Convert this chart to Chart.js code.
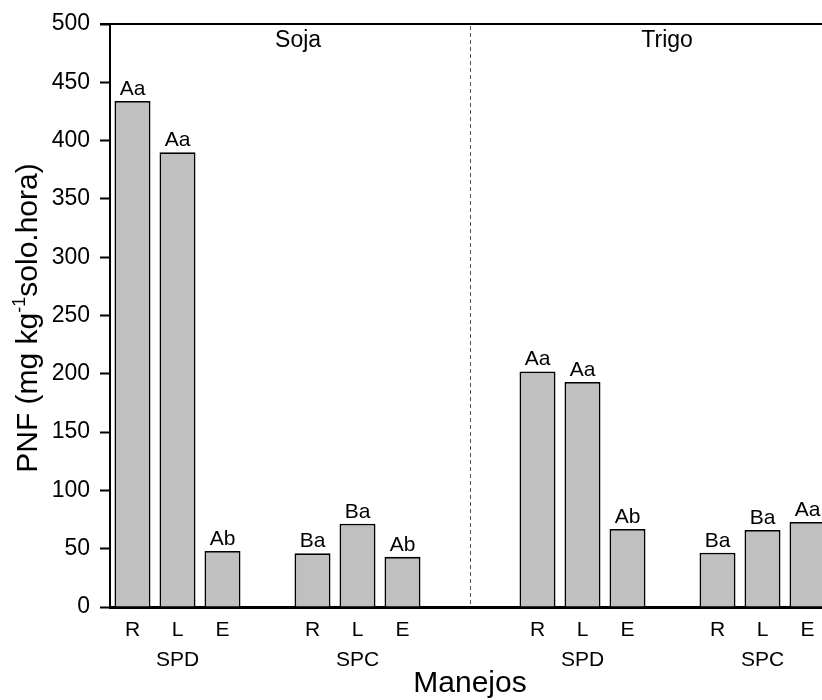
<!DOCTYPE html>
<html><head><meta charset="utf-8">
<script src="https://cdn.jsdelivr.net/npm/chart.js@4/dist/chart.umd.min.js"></script>
<style>
html,body{margin:0;padding:0;background:#fff;overflow:hidden;width:822px;height:700px}
#wrap{position:relative;width:840px;height:700px}
</style>
</head><body><div id="wrap"><canvas id="c" width="840" height="700"></canvas></div>
<script>
// ---- data ----
const crops = ['Soja', 'Trigo'];
const systems = ['SPD', 'SPC'];
const treatments = ['R', 'L', 'E'];
const sojaSPD = [434, 390, 48];
const sojaSPC = [46, 71.5, 43];
const trigoSPD = [202, 193, 67];
const trigoSPC = [46.5, 66, 73];
const sojaSPDLetters = ['Aa', 'Aa', 'Ab'];
const sojaSPCLetters = ['Ba', 'Ba', 'Ab'];
const trigoSPDLetters = ['Aa', 'Aa', 'Ab'];
const trigoSPCLetters = ['Ba', 'Ba', 'Aa'];
const yMin = 0, yMax = 500, yStep = 50;
const yTitleMain = 'PNF (mg kg';
const yTitleSup = '-1';
const yTitleEnd = 'solo.hora)';
const xTitle = 'Manejos';

// ---- build slots (gaps between groups) ----
const groups = [
  {sys: systems[0], vals: sojaSPD, let: sojaSPDLetters},
  {gap: 1},
  {sys: systems[1], vals: sojaSPC, let: sojaSPCLetters},
  {gap: 2},
  {sys: systems[0], vals: trigoSPD, let: trigoSPDLetters},
  {gap: 1},
  {sys: systems[1], vals: trigoSPC, let: trigoSPCLetters}
];
const labels = [], values = [], letters = [];
groups.forEach(g => {
  if (g.gap) { for (let i = 0; i < g.gap; i++) { labels.push(''); values.push(null); letters.push(null); } return; }
  treatments.forEach((t, i) => {
    labels.push(i === 1 ? [t, g.sys] : t);
    values.push(g.vals[i]);
    letters.push(g.let[i]);
  });
});

const FONT = "'Liberation Sans', Arial, sans-serif";
Chart.defaults.color = '#000';
Chart.defaults.font.family = FONT;

const deco = {
  id: 'deco',
  afterDatasetsDraw(chart) {
    const ctx = chart.ctx, a = chart.chartArea;
    const xs = chart.scales.x;
    ctx.save();
    // top frame line
    ctx.strokeStyle = '#000'; ctx.lineWidth = 2;
    ctx.beginPath(); ctx.moveTo(a.left - 10, a.top); ctx.lineTo(chart.width, a.top); ctx.stroke();
    // dashed separator
    const sepX = (xs.getPixelForValue(7) + xs.getPixelForValue(8)) / 2;
    ctx.strokeStyle = '#555'; ctx.lineWidth = 1; ctx.setLineDash([4, 3]);
    ctx.beginPath(); ctx.moveTo(Math.round(sepX) + 0.5, a.top + 2); ctx.lineTo(Math.round(sepX) + 0.5, a.bottom); ctx.stroke();
    ctx.setLineDash([]);
    // crop labels
    ctx.fillStyle = '#000';
    ctx.font = '23px ' + FONT;
    ctx.textAlign = 'center'; ctx.textBaseline = 'alphabetic';
    ctx.fillText(crops[0], xs.getPixelForValue(3.68), a.top + 23);
    ctx.fillText(crops[1], xs.getPixelForValue(11.88), a.top + 23);
    // bar letters
    ctx.font = '21px ' + FONT;
    const meta = chart.getDatasetMeta(0);
    meta.data.forEach((el, i) => {
      if (letters[i] == null || values[i] == null) return;
      ctx.fillText(letters[i], el.x, el.y - 6);
    });
    // x title
    ctx.font = '30px ' + FONT;
    ctx.fillText(xTitle, sepX, 692);
    // y title (rotated, with superscript)
    ctx.save();
    ctx.translate(37, 318);
    ctx.rotate(-Math.PI / 2);
    ctx.textAlign = 'left';
    const fMain = '30px ' + FONT, fSup = '18px ' + FONT;
    ctx.font = fMain; const w1 = ctx.measureText(yTitleMain).width; const w3 = ctx.measureText(yTitleEnd).width;
    ctx.font = fSup; const w2 = ctx.measureText(yTitleSup).width;
    let x0 = -(w1 + w2 + w3) / 2;
    ctx.font = fMain; ctx.fillText(yTitleMain, x0, 0); x0 += w1;
    ctx.font = fSup; ctx.fillText(yTitleSup, x0, -12); x0 += w2;
    ctx.font = fMain; ctx.fillText(yTitleEnd, x0, 0);
    ctx.restore();
    ctx.restore();
  }
};

new Chart(document.getElementById('c'), {
  type: 'bar',
  data: {
    labels: labels,
    datasets: [{
      data: values,
      backgroundColor: '#c0c0c0',
      borderColor: '#000',
      borderWidth: 1.8,
      barPercentage: 0.8,
      categoryPercentage: 1.0
    }]
  },
  options: {
    responsive: false,
    animation: false,
    layout: {padding: {top: 24, right: 10, left: 0, bottom: 0}},
    plugins: {legend: {display: false}, tooltip: {enabled: false}},
    scales: {
      x: {
        type: 'category',
        offset: true,
        grid: {display: false, drawTicks: false},
        border: {display: true, color: '#000', width: 3},
        ticks: {autoSkip: false, maxRotation: 0, minRotation: 0, padding: 8,
                font: {size: 21, lineHeight: 1.45}, color: '#000'},
        afterFit(s) { s.height = 93; }
      },
      y: {
        min: yMin, max: yMax,
        grid: {drawOnChartArea: false, drawTicks: true, tickLength: 10, tickWidth: 2, tickColor: '#000'},
        border: {display: true, color: '#000', width: 2},
        ticks: {stepSize: yStep, padding: 10, font: {size: 23}, color: '#000'},
        afterFit(s) { s.width = 110; }
      }
    }
  },
  plugins: [deco]
});
</script>
</body></html>
